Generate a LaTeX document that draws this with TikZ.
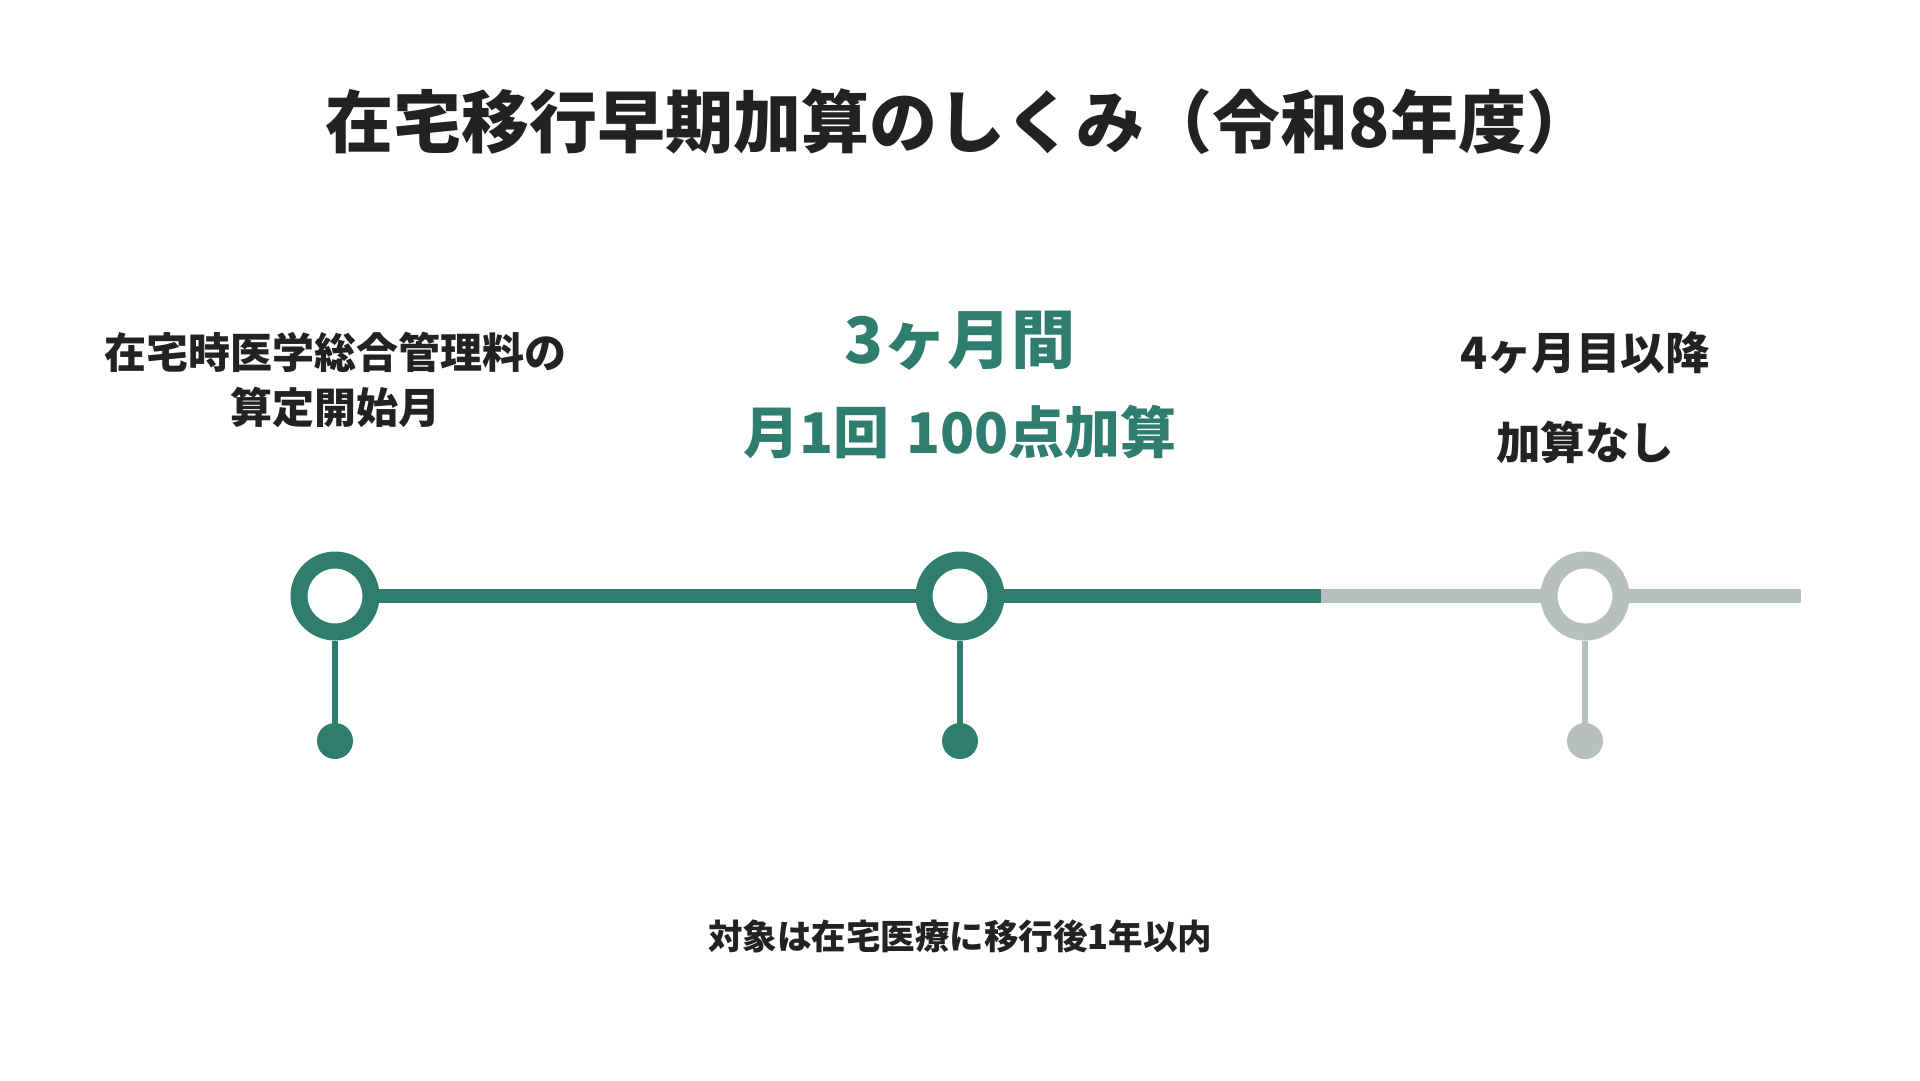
\documentclass[tikz,border=0pt]{standalone}
\usepackage{fontspec}
\setmainfont{Noto Sans CJK JP}
\usetikzlibrary{backgrounds}
\definecolor{tlgreen}{HTML}{2E7D6E}
\definecolor{tlgray}{HTML}{B8BFBF}
\definecolor{tldark}{HTML}{222222}
\tikzset{
  ring/.style={circle, draw=#1, fill=white, line width=17pt, minimum size=72pt, inner sep=0pt},
  dotnode/.style={circle, fill=#1, minimum size=36pt, inner sep=0pt},
  stem/.style={draw=#1, line width=6pt},
  bar/.style={draw=#1, line width=14pt},
  lbl/.style={inner sep=0pt, anchor=center, text=tldark},
  glbl/.style={inner sep=0pt, anchor=center, text=tlgreen},
}
\begin{document}
\begin{tikzpicture}[x=1pt, y=-1pt]
\useasboundingbox (0,0) rectangle (1920,1080);

% title
\node[inner sep=0pt, font=\fontsize{68pt}{80pt}\selectfont\bfseries, text=tldark] (title) at (960,122) {在宅移行早期加算のしくみ（令和8年度）};

% labels
\node[lbl, font=\fontsize{42pt}{50pt}\selectfont\bfseries] (l1a) at (335,352) {在宅時医学総合管理料の};
\node[lbl, font=\fontsize{42pt}{50pt}\selectfont\bfseries] (l1b) at (335,407) {算定開始月};
\node[glbl, font=\fontsize{64pt}{74pt}\selectfont\bfseries] (l2a) at (960,341) {3ヶ月間};
\node[glbl, font=\fontsize{56pt}{64pt}\selectfont\bfseries] (l2b) at (960,432) {月1回\hspace{4pt} 100点加算};
\node[lbl, font=\fontsize{44.5pt}{52pt}\selectfont\bfseries] (l3a) at (1585,353) {4ヶ月目以降};
\node[lbl, font=\fontsize{44.5pt}{52pt}\selectfont\bfseries] (l3b) at (1585,442) {加算なし};

% timeline markers
\node[ring=tlgreen] (c1) at (335,596) {};
\node[ring=tlgreen] (c2) at (960,596) {};
\node[ring=tlgray] (c3) at (1585,596) {};
\coordinate (m) at (1321,596);
\coordinate (e) at (1801,596);

\begin{scope}[on background layer]
\fill[white] (0,0) rectangle (1920,1080);
\draw[bar=tlgreen] (c1.center) -- (m);
\draw[bar=tlgray] (m) -- (e);
\end{scope}

\node[dotnode=tlgreen] (d1) at (335,741) {};
\node[dotnode=tlgreen] (d2) at (960,741) {};
\node[dotnode=tlgray] (d3) at (1585,741) {};
\draw[stem=tlgreen] (c1) -- (d1);
\draw[stem=tlgreen] (c2) -- (d2);
\draw[stem=tlgray] (c3) -- (d3);

% footer
\node[lbl, font=\fontsize{34.5pt}{42pt}\selectfont\bfseries] (foot) at (960,936) {対象は在宅医療に移行後1年以内};
\end{tikzpicture}
\end{document}
